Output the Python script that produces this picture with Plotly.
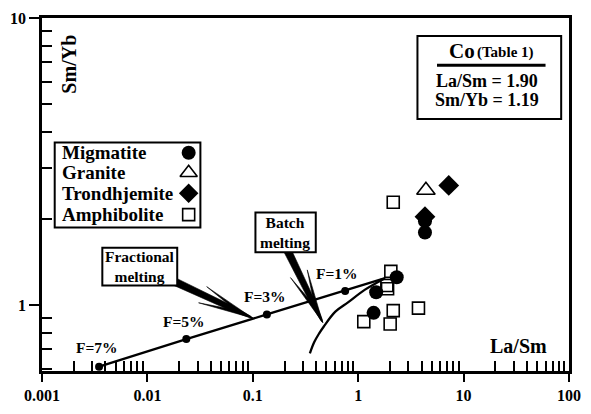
import numpy as np
import plotly.graph_objects as go

# ---------------- data ----------------
mig_x = [4.30, 4.30, 2.32, 1.48, 1.40]
mig_y = [1.96, 1.79, 1.25, 1.108, 0.939]
gran_x = [4.39]
gran_y = [2.51]
trond_x = [7.23, 4.30]
trond_y = [2.61, 2.03]
amph_x = [2.15, 2.04, 1.87, 1.90, 2.15, 3.73, 1.13, 2.01]
amph_y = [2.28, 1.31, 1.17, 1.14, 0.956, 0.975, 0.875, 0.859]

# fractional melting model (F = 7, 5, 3, 1 % and source Co)
frac_x = [0.00348, 0.0234, 0.136, 0.752, 1.80]
frac_y = [0.610, 0.761, 0.927, 1.12, 1.24]
frac_labels = ["F=7%", "F=5%", "F=3%", "F=1%"]
# batch melting model curve
batch_x = [0.348, 0.383, 0.425, 0.472, 0.607, 0.806, 1.151, 1.80]
batch_y = [0.679, 0.743, 0.795, 0.842, 0.948, 1.023, 1.129, 1.24]

x_tickvals = [0.001, 0.01, 0.1, 1, 10, 100]
x_ticktext = ["0.001", "0.01", "0.1", "1", "10", "100"]
y_tickvals = [1, 10]
y_ticktext = ["1", "10"]

legend_names = ["Migmatite", "Granite", "Trondhjemite", "Amphibolite"]
co_lines = ["La/Sm = 1.90", "Sm/Yb = 1.19"]

# ---------------- layout geometry ----------------
W, H = 591, 414
ML, MR, MT, MB = 40, 12, 10, 30
PW, PH = W - ML - MR, H - MT - MB
XR = [-3, 2]
YR = [float(np.log10(0.589)), 1.0]
FONT = "Liberation Serif"


def p2paper(px, py):
    return ((px - ML) / PW, (MT + PH - py) / PH)


def d2px(x, y):
    px = ML + (np.log10(x) - XR[0]) / (XR[1] - XR[0]) * PW
    py = MT + (YR[1] - np.log10(y)) / (YR[1] - YR[0]) * PH
    return np.array([px, py])


def path_from_px(pts):
    s = ""
    for i, (px, py) in enumerate(pts):
        fx, fy = p2paper(px, py)
        s += ("M" if i == 0 else "L") + f"{fx:.5f},{fy:.5f} "
    return s + "Z"


def arrow_paths(S, T, w0=8.0, w1=5.5, Lh=57.0, h=9.5):
    S = np.asarray(S, float)
    T = np.asarray(T, float)
    d = T - S
    u = d / np.linalg.norm(d)
    n = np.array([-u[1], u[0]])
    M = T - u * 0.45 * Lh
    paths = [path_from_px([S + n * w0 / 2, M + n * w1 / 2, T - u * 3 + n * 1.0, T,
                           T - u * 3 - n * 1.0, M - n * w1 / 2, S - n * w0 / 2])]
    for side in (1, -1):
        Lb = T - u * Lh + side * n * h
        P = T - u * 0.5 * Lh + side * n * 2.2
        paths.append(path_from_px([Lb, T, P]))
    return paths


fig = go.Figure()

# model lines
fig.add_trace(go.Scatter(x=frac_x, y=frac_y, mode="lines",
                         line=dict(color="black", width=2.3), showlegend=False))
fig.add_trace(go.Scatter(x=frac_x[:4], y=frac_y[:4], mode="markers",
                         marker=dict(color="black", size=8), showlegend=False))
fig.add_trace(go.Scatter(x=batch_x, y=batch_y, mode="lines",
                         line=dict(color="black", width=2.3, shape="spline", smoothing=1.0),
                         showlegend=False))

# samples
fig.add_trace(go.Scatter(x=amph_x, y=amph_y, mode="markers", name="Amphibolite",
                         marker=dict(symbol="square-open", size=12, color="black",
                                     line=dict(width=1.6, color="black")), showlegend=False))
fig.add_trace(go.Scatter(x=gran_x, y=gran_y, mode="markers", name="Granite",
                         marker=dict(symbol="triangle-up-open", size=16, color="black",
                                     line=dict(width=1.6, color="black")), showlegend=False))
fig.add_trace(go.Scatter(x=mig_x, y=mig_y, mode="markers", name="Migmatite",
                         marker=dict(symbol="circle", size=14, color="black"), showlegend=False))
fig.add_trace(go.Scatter(x=trond_x, y=trond_y, mode="markers", name="Trondhjemite",
                         marker=dict(symbol="diamond", size=16, color="black"), showlegend=False))

# legend symbols on an overlay [0,1] axis (paper-like)
leg_rows_py = [152.7, 174.0, 195.7, 218.3]
leg_sym = [dict(symbol="circle", size=14, color="black"),
           dict(symbol="triangle-up-open", size=15, color="black", line=dict(width=1.6, color="black")),
           dict(symbol="diamond", size=15, color="black"),
           dict(symbol="square-open", size=12, color="black", line=dict(width=1.6, color="black"))]
for py, m in zip(leg_rows_py, leg_sym):
    fx, fy = p2paper(190, py)
    fig.add_trace(go.Scatter(x=[fx], y=[fy], mode="markers", marker=m,
                             xaxis="x2", yaxis="y2", showlegend=False, cliponaxis=False))

shapes = []
# arrows (drawn before the boxes so the boxes cover their tails)
frac_tip = d2px(0.10, 0.90)
batch_tip = d2px(0.46, 0.87)
for pth in arrow_paths((175, 289), frac_tip):
    shapes.append(dict(type="path", xref="paper", yref="paper", path=pth,
                       fillcolor="black", line=dict(width=0.6, color="black")))
for pth in arrow_paths((290, 254), batch_tip):
    shapes.append(dict(type="path", xref="paper", yref="paper", path=pth,
                       fillcolor="black", line=dict(width=0.6, color="black")))


def rect_px(x0, y0, x1, y1, lw=2, layer="above"):
    a = p2paper(x0, y1)
    b = p2paper(x1, y0)
    return dict(type="rect", xref="paper", yref="paper", x0=a[0], y0=a[1], x1=b[0], y1=b[1],
                fillcolor="white", line=dict(color="black", width=lw), layer=layer)


shapes.append(rect_px(53, 142, 202, 232, layer="below"))
shapes.append(rect_px(424, 29, 571, 117))
shapes.append(rect_px(101.7, 253.3, 178.3, 293.3))
shapes.append(rect_px(258.3, 216, 320, 258.3))
r0 = p2paper(444, 60)
r1 = p2paper(555, 60)
shapes.append(dict(type="line", xref="paper", yref="paper", x0=r0[0], y0=r0[1], x1=r1[0], y1=r1[1],
                   line=dict(color="black", width=3)))

annotations = []


def ann_px(text, px, py, size, xanchor="center", textangle=0):
    fx, fy = p2paper(px, py)
    annotations.append(dict(text=text, x=fx, y=fy, xref="paper", yref="paper",
                            xanchor=xanchor, yanchor="middle", showarrow=False,
                            textangle=textangle,
                            font=dict(family=FONT, size=size, color="black", weight="bold")))


ann_px("Sm/Yb", 68, 59, 20, textangle=-90)
ann_px("La/Sm", 527, 357, 20)
for name, py in zip(legend_names, leg_rows_py):
    ann_px(name, 58, py, 19, xanchor="left")
ann_px("Co", 454, 45, 21, xanchor="left")
ann_px("(Table 1)", 482.5, 47, 15, xanchor="left")
ann_px(co_lines[0], 495, 76.5, 18)
ann_px(co_lines[1], 495.5, 97, 18)
ann_px("Fractional<br>melting", 140, 273.5, 15.5)
ann_px("Batch<br>melting", 289, 237, 15.5)

# F labels anchored on the model points
shifts = [(-2, 19), (-2, 18), (-2, 17.5), (-8, 17.5)]
for lab, xv, yv, (sx, sy) in zip(frac_labels, frac_x, frac_y, shifts):
    annotations.append(dict(text=lab, x=float(np.log10(xv)), y=float(np.log10(yv)),
                            xref="x", yref="y", showarrow=False, xshift=sx, yshift=sy,
                            font=dict(family=FONT, size=15.5, color="black", weight="bold")))

x_minor = [m * 10.0 ** e for e in range(-3, 2) for m in range(2, 10)]
y_minor = [0.6, 0.7, 0.8, 0.9] + [m for m in range(2, 10)]

axis_common = dict(type="log", showline=True, linecolor="black", linewidth=2.5, mirror=True,
                   showgrid=False, zeroline=False, ticks="outside", tickwidth=2,
                   tickcolor="black",
                   tickfont=dict(family=FONT, size=16, color="black", weight="bold"))

fig.update_layout(
    width=W, height=H,
    margin=dict(l=ML, r=MR, t=MT, b=MB, pad=0),
    paper_bgcolor="white", plot_bgcolor="white",
    font=dict(family=FONT, color="black", weight="bold"),
    xaxis=dict(range=XR, tickmode="array", tickvals=x_tickvals, ticktext=x_ticktext, ticklen=8,
               minor=dict(tickmode="array", tickvals=x_minor, ticks="inside", ticklen=10,
                          tickwidth=1.5, tickcolor="black", showgrid=False),
               **axis_common),
    yaxis=dict(range=YR, tickmode="array", tickvals=y_tickvals, ticktext=y_ticktext, ticklen=10,
               minor=dict(tickmode="array", tickvals=y_minor, ticks="inside", ticklen=10,
                          tickwidth=1.5, tickcolor="black", showgrid=False),
               **axis_common),
    xaxis2=dict(range=[0, 1], overlaying="x", visible=False, fixedrange=True),
    yaxis2=dict(range=[0, 1], overlaying="y", visible=False, fixedrange=True),
    shapes=shapes,
    annotations=annotations,
    showlegend=False,
)

fig.write_html("out.html", config={"displayModeBar": False},
               post_script="document.body.style.margin='0px';")
